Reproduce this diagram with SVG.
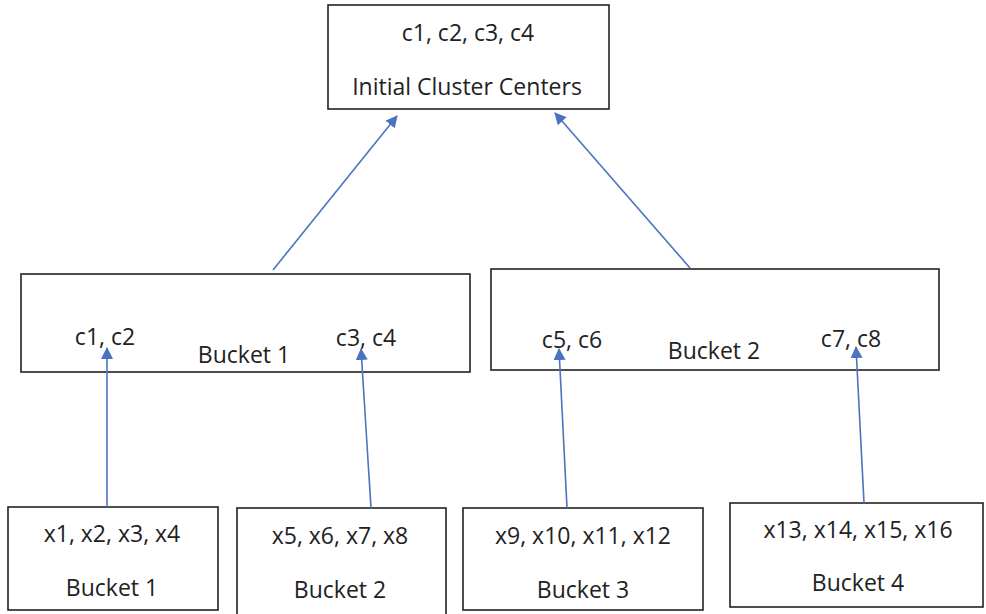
<svg xmlns="http://www.w3.org/2000/svg" width="986" height="614" viewBox="0 0 986 614">
<style>
.box{fill:#fff;stroke:#222;stroke-width:1.6}
text{font-family:"Open Sans","Liberation Sans",sans-serif;font-size:23px;fill:#222}
.c{text-anchor:middle}
.arr{stroke:#4a74c0;stroke-width:1.6;fill:none;marker-end:url(#ah)}
</style>
<defs>
<marker id="ah" markerWidth="12" markerHeight="12" refX="11" refY="6" orient="auto" markerUnits="userSpaceOnUse" viewBox="0 0 12 12">
<path d="M0,0 L12,6 L0,12 z" fill="#4a74c0"/>
</marker>
</defs>
<rect width="986" height="614" fill="#fff"/>
<g id="top">
<rect class="box" x="328" y="5" width="281" height="104"/>
<text class="c" x="468" y="41">c1, c2, c3, c4</text>
<text class="c" x="467" y="95">Initial Cluster Centers</text>
</g>
<g id="mid1">
<rect class="box" x="21" y="274" width="449" height="98"/>
<text class="c" x="105" y="345">c1, c2</text>
<text class="c" x="244" y="363">Bucket 1</text>
<text class="c" x="366" y="346">c3, c4</text>
</g>
<g id="mid2">
<rect class="box" x="491" y="269" width="448" height="101"/>
<text class="c" x="572" y="348">c5, c6</text>
<text class="c" x="714" y="359">Bucket 2</text>
<text class="c" x="851" y="347">c7, c8</text>
</g>
<g id="b1">
<rect class="box" x="8" y="507" width="210" height="103"/>
<text class="c" x="112" y="542">x1, x2, x3, x4</text>
<text class="c" x="112" y="596">Bucket 1</text>
</g>
<g id="b2">
<rect class="box" x="237" y="508" width="209" height="110"/>
<text class="c" x="340" y="544">x5, x6, x7, x8</text>
<text class="c" x="340" y="598">Bucket 2</text>
</g>
<g id="b3">
<rect class="box" x="463" y="508" width="240" height="102"/>
<text class="c" x="583" y="544">x9, x10, x11, x12</text>
<text class="c" x="583" y="598">Bucket 3</text>
</g>
<g id="b4">
<rect class="box" x="730" y="503" width="253" height="104"/>
<text class="c" x="858" y="538">x13, x14, x15, x16</text>
<text class="c" x="858" y="591">Bucket 4</text>
</g>
<g id="connectors">
<line class="arr" x1="273" y1="270" x2="397" y2="116"/>
<line class="arr" x1="690" y1="268" x2="555" y2="113"/>
<line class="arr" x1="107" y1="507" x2="107" y2="348"/>
<line class="arr" x1="371" y1="508" x2="361" y2="349"/>
<line class="arr" x1="567" y1="508" x2="559" y2="349"/>
<line class="arr" x1="864" y1="503" x2="856" y2="347"/>
</g>
</svg>
